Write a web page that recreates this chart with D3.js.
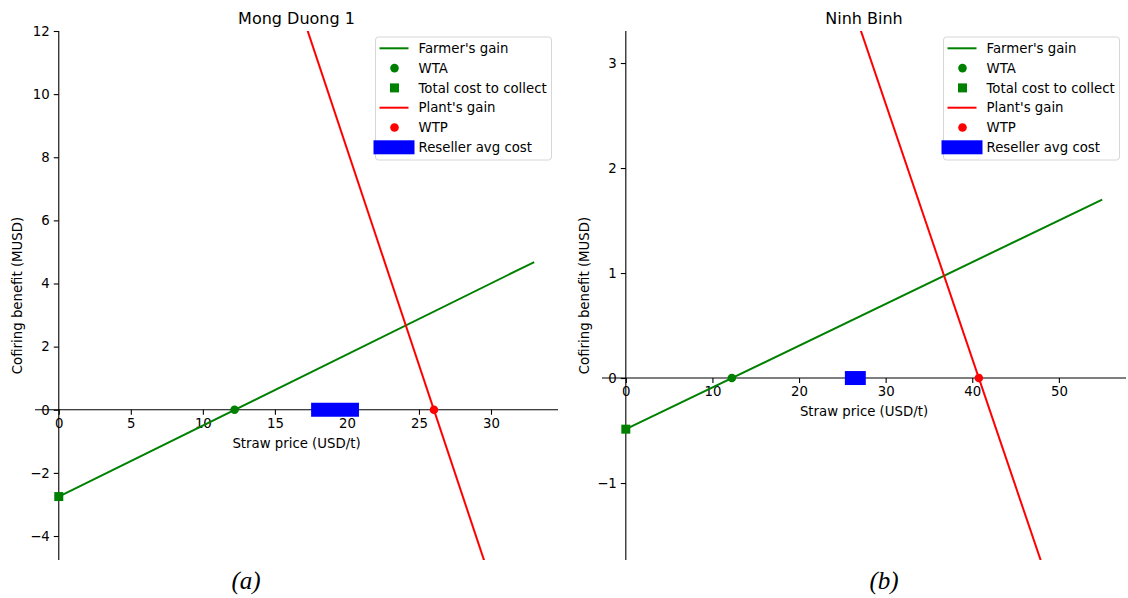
<!DOCTYPE html>
<html>
<head>
<meta charset="utf-8">
<script src="https://cdn.jsdelivr.net/npm/d3@7"></script>
<style>
  body { margin: 0; background: #fff; }
  svg { display: block; font-family: "DejaVu Sans", sans-serif; }
</style>
</head>
<body>
<svg id="chart" width="1128" height="598"></svg>
<script>
// Panel titles and sub-figure tags
const titles = ["Mong Duong 1", "Ninh Binh"];
const tags = ["(a)", "(b)"];

// Farmer's gain (straight line, two end points)
const farmerX = [[0, 33], [0, 55]];
const farmerY = [[-2.75, 4.68], [-0.487, 1.70]];

// Plant's gain (clipped by the axes)
const plantX = [[0, 33], [0, 55]];
const plantY = [[35.67, -9.54], [9.90, -3.46]];

// Markers
const wtaX = [12.2, 12.24];
const wtpX = [26.04, 40.76];
const totalCost = [-2.75, -0.487];
const resellerRange = [[18.0, 20.35], [26.1, 26.9]];

// Axis ranges and ticks
const xDomains = [[-1.65, 34.65], [-2.75, 57.75]];
const yDomains = [[-4.76, 12], [-1.733, 3.305]];
const xTicks = [[0, 5, 10, 15, 20, 25, 30], [0, 10, 20, 30, 40, 50]];
const yTicks = [[-4, -2, 0, 2, 4, 6, 8, 10, 12], [-1, 0, 1, 2, 3]];

const legendItems = ["Farmer's gain", "WTA", "Total cost to collect", "Plant's gain", "WTP", "Reseller avg cost"];

const GREEN = "#008000", RED = "#ff0000", BLUE = "#0000ff";
const svg = d3.select("#chart");
const boxes = [{ x0: 35, x1: 558 }, { x0: 602, x1: 1126 }];
const axTop = 31, axBottom = 560;
const fmt = v => (v < 0 ? "\u2212" + Math.abs(v) : String(v));

function drawPanel(i) {
  const b = boxes[i];
  const x = d3.scaleLinear().domain(xDomains[i]).range([b.x0, b.x1]);
  const y = d3.scaleLinear().domain(yDomains[i]).range([axBottom, axTop]);
  const g = svg.append("g");

  const clipId = "clip" + i;
  svg.append("defs").append("clipPath").attr("id", clipId)
    .append("rect").attr("x", b.x0).attr("y", axTop)
    .attr("width", b.x1 - b.x0).attr("height", axBottom - axTop);

  // Spines through zero
  const x0 = x(0), y0 = y(0);
  const xAxis = g.append("g").attr("transform", `translate(0,${y0})`)
    .call(d3.axisBottom(x).tickValues(xTicks[i]).tickFormat(fmt).tickSize(5).tickPadding(4));
  const yAxis = g.append("g").attr("transform", `translate(${x0},0)`)
    .call(d3.axisLeft(y).tickValues(yTicks[i]).tickFormat(fmt).tickSize(5).tickPadding(4));
  [xAxis, yAxis].forEach(a => {
    a.select(".domain").attr("stroke", "#000").attr("stroke-width", 1.1);
    a.selectAll(".tick line").attr("stroke", "#000").attr("stroke-width", 1.1);
    a.selectAll("text").attr("fill", "#000").attr("font-size", 13.3)
      .attr("font-family", "DejaVu Sans");
  });
  xAxis.select(".domain").attr("d", `M${b.x0},0H${b.x1}`);
  yAxis.select(".domain").attr("d", `M0,${axTop}V${axBottom}`);

  // Labels
  g.append("text").attr("x", (b.x0 + b.x1) / 2).attr("y", 24)
    .attr("text-anchor", "middle").attr("font-size", 16).text(titles[i]);
  g.append("text").attr("x", (b.x0 + b.x1) / 2).attr("y", y0 + 38)
    .attr("text-anchor", "middle").attr("font-size", 13.3).text("Straw price (USD/t)");
  g.append("text")
    .attr("transform", `translate(${b.x0 - 13},${(axTop + axBottom) / 2}) rotate(-90)`)
    .attr("text-anchor", "middle").attr("font-size", 13.3).text("Cofiring benefit (MUSD)");
  g.append("text").attr("x", i === 0 ? 246 : 884).attr("y", 589)
    .attr("text-anchor", "middle").attr("font-family", "Liberation Serif, serif")
    .attr("font-style", "italic").attr("font-size", 25).text(tags[i]);

  const plot = g.append("g").attr("clip-path", `url(#${clipId})`);
  const line = d3.line().x(d => x(d[0])).y(d => y(d[1]));

  plot.append("path").datum(d3.zip(farmerX[i], farmerY[i]))
    .attr("d", line).attr("fill", "none").attr("stroke", GREEN).attr("stroke-width", 2);
  plot.append("path").datum(d3.zip(plantX[i], plantY[i]))
    .attr("d", line).attr("fill", "none").attr("stroke", RED).attr("stroke-width", 2);

  plot.append("circle").attr("cx", x(wtaX[i])).attr("cy", y(0)).attr("r", 4.3).attr("fill", GREEN);
  plot.append("rect").attr("x", x(0) - 4.5).attr("y", y(totalCost[i]) - 4.5)
    .attr("width", 9).attr("height", 9).attr("fill", GREEN);
  plot.append("circle").attr("cx", x(wtpX[i])).attr("cy", y(0)).attr("r", 4.3).attr("fill", RED);
  plot.append("line")
    .attr("x1", x(resellerRange[i][0])).attr("x2", x(resellerRange[i][1]))
    .attr("y1", y(0)).attr("y2", y(0))
    .attr("stroke", BLUE).attr("stroke-width", 14).attr("stroke-linecap", "square");

  // Legend
  const lw = 176, lh = 123;
  const lx = b.x1 - 6.5 - lw, ly = 37;
  const leg = g.append("g").attr("transform", `translate(${lx},${ly})`);
  leg.append("rect").attr("width", lw).attr("height", lh).attr("rx", 3)
    .attr("fill", "#fff").attr("fill-opacity", 0.8).attr("stroke", "#d6d6d6").attr("stroke-width", 1);
  legendItems.forEach((name, k) => {
    const ry = 11.3 + k * 19.8;
    const r = leg.append("g").attr("transform", `translate(0,${ry})`);
    if (k === 0 || k === 3) {
      r.append("line").attr("x1", 4).attr("x2", 33).attr("stroke", k === 0 ? GREEN : RED).attr("stroke-width", 2);
    } else if (k === 1 || k === 4) {
      r.append("circle").attr("cx", 19).attr("r", 4.3).attr("fill", k === 1 ? GREEN : RED);
    } else if (k === 2) {
      r.append("rect").attr("x", 14.5).attr("y", -4.5).attr("width", 9).attr("height", 9).attr("fill", GREEN);
    } else {
      r.append("rect").attr("x", -2).attr("y", -7).attr("width", 41).attr("height", 14).attr("fill", BLUE);
    }
    r.append("text").attr("x", 43).attr("dy", "0.35em").attr("font-size", 13.3).text(name);
  });
}

[0, 1].forEach(drawPanel);
</script>
</body>
</html>
